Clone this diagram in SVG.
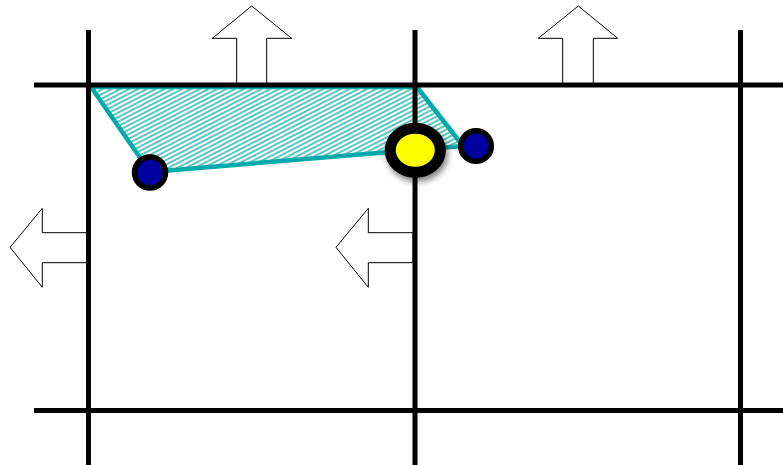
<svg xmlns="http://www.w3.org/2000/svg" width="783" height="465" viewBox="0 0 783 465">
<style>
.grid{stroke:#000;stroke-width:5;fill:none}
.arrow{fill:#fff;stroke:#000;stroke-width:1}
.blue{fill:#0000a0;stroke:#000;stroke-width:5.5}
</style>
<defs>
<pattern id="hatch" patternUnits="userSpaceOnUse" width="8" height="4" patternTransform="rotate(-27)">
<line x1="0" y1="2" x2="8" y2="2" stroke="#1fb5b0" stroke-width="1.5"/>
</pattern>
<filter id="shadow" x="-50%" y="-50%" width="200%" height="200%">
<feGaussianBlur in="SourceAlpha" stdDeviation="3"/>
<feOffset dx="2" dy="4" result="b"/>
<feComponentTransfer><feFuncA type="linear" slope="0.5"/></feComponentTransfer>
<feMerge><feMergeNode/><feMergeNode in="SourceGraphic"/></feMerge>
</filter>
</defs>
<rect width="783" height="465" fill="#fff"/>
<g id="region">
<polygon points="91,87 417,87 463,146 150,172" fill="url(#hatch)" stroke="#00aaaa" stroke-width="4.5" stroke-linejoin="round"/>
</g>
<g id="arrows">
<polygon class="arrow" points="236.7,85 236.7,38.3 212.3,38.3 251.7,6 291.7,38.3 266.7,38.3 266.7,85"/>
<polygon class="arrow" points="562.7,85 562.7,38.3 538.3,38.3 578.3,6 617.7,38.3 593.3,38.3 593.3,85"/>
<polygon class="arrow" points="87,232.7 42.3,232.7 42.3,208.3 10,247.3 42.3,287.3 42.3,262.7 87,262.7"/>
<polygon class="arrow" points="413,232.7 368.3,232.7 368.3,208.3 336,247.3 368.3,287.3 368.3,262.7 413,262.7"/>
</g>
<g id="connectors">
<line class="grid" x1="34" y1="85" x2="783" y2="85"/>
<line class="grid" x1="34" y1="410.5" x2="783" y2="410.5"/>
<line class="grid" x1="88.5" y1="30" x2="88.5" y2="465"/>
<line class="grid" x1="415" y1="30" x2="415" y2="465"/>
<line class="grid" x1="740.5" y1="30" x2="740.5" y2="465"/>
</g>
<g id="node-left">
<circle class="blue" cx="150" cy="172.5" r="15.5"/>
</g>
<g id="node-right">
<circle class="blue" cx="476" cy="146" r="15.3"/>
</g>
<g id="node-center" filter="url(#shadow)">
<ellipse cx="415.3" cy="150.3" rx="25" ry="22" fill="#ffff00" stroke="#000" stroke-width="11"/>
</g>
</svg>
